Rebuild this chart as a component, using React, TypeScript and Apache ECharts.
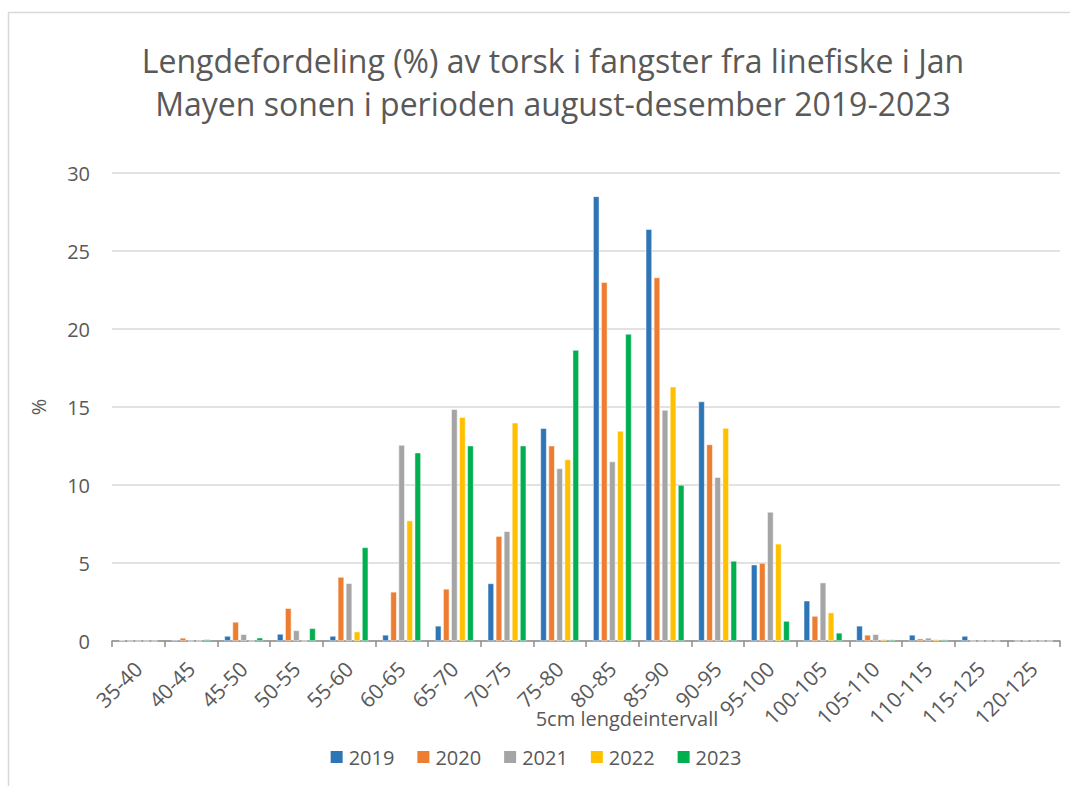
import React, { useEffect, useRef } from "react";
import * as echarts from "echarts";

const categories = ["35-40","40-45","45-50","50-55","55-60","60-65","65-70","70-75","75-80","80-85","85-90","90-95","95-100","100-105","105-110","110-115","115-125","120-125"];
const years = ["2019","2020","2021","2022","2023"];
const colors = ["#2E75B6","#ED7D31","#A5A5A5","#FFC000","#00B050"];
const v2019 = [0.03,0.07,0.32,0.45,0.32,0.39,0.97,3.69,13.64,28.5,26.4,15.35,4.89,2.58,0.97,0.39,0.32,0];
const v2020 = [0,0.2,1.22,2.1,4.1,3.15,3.34,6.72,12.52,23.0,23.3,12.6,5.0,1.6,0.39,0.15,0,0.02];
const v2021 = [0,0,0.43,0.68,3.7,12.56,14.85,7.03,11.06,11.5,14.8,10.5,8.27,3.74,0.43,0.2,0,0];
const v2022 = [0,0,0,0,0.6,7.72,14.35,13.99,11.64,13.46,16.3,13.65,6.23,1.82,0.11,0.11,0,0];
const v2023 = [0,0.1,0.21,0.81,6.0,12.07,12.52,12.52,18.65,19.68,10.0,5.13,1.28,0.52,0.09,0.09,0,0];
const seriesValues = [v2019, v2020, v2021, v2022, v2023];

const FONT = "'Open Sans', sans-serif";
const TXT = "#595959";

export default function App() {
  const ref = useRef<HTMLDivElement>(null);
  useEffect(() => {
    const chart = echarts.init(ref.current!, null, { renderer: "svg" });
    chart.setOption({
      animation: false,
      backgroundColor: "#fff",
      textStyle: { fontFamily: FONT },
      title: {
        text: "Lengdefordeling (%) av torsk i fangster fra linefiske i Jan\nMayen sonen i perioden august-desember 2019-2023",
        left: 548,
        top: 34,
        textAlign: "center",
        textStyle: { fontFamily: FONT, fontSize: 32, fontWeight: "normal", color: TXT, lineHeight: 43 },
      },
      graphic: [
        { type: "line", shape: { x1: 8.5, y1: 12, x2: 8.5, y2: 786 }, style: { stroke: "#D9D9D9", lineWidth: 1.5 } },
        { type: "line", shape: { x1: 8, y1: 12.5, x2: 1070, y2: 12.5 }, style: { stroke: "#D9D9D9", lineWidth: 1.5 } },
        { type: "text", x: 627, y: 708, style: { text: "5cm lengdeintervall", fontFamily: FONT, fontSize: 20, fill: TXT, textAlign: "center" } },
      ],
      legend: {
        data: years,
        left: "center",
        top: 742,
        itemWidth: 14,
        itemHeight: 14,
        itemGap: 21,
        icon: "rect",
        textStyle: { fontFamily: FONT, fontSize: 20, color: TXT },
      },
      grid: { left: 112, right: 10, top: 173, bottom: 145, containLabel: false },
      xAxis: {
        type: "category",
        data: categories,
        axisLine: { lineStyle: { color: "#8C8C8C", width: 1.5 } },
        axisTick: { show: true, length: 6, lineStyle: { color: "#8C8C8C", width: 1.5 } },
        axisLabel: { rotate: 45, fontFamily: FONT, fontSize: 21, color: TXT, margin: 24, interval: 0 },
      },
      yAxis: {
        type: "value",
        min: 0,
        max: 30,
        interval: 5,
        name: "%",
        nameLocation: "middle",
        nameGap: 64,
        nameRotate: 90,
        nameTextStyle: { fontFamily: FONT, fontSize: 20, color: TXT },
        axisLine: { show: false },
        axisTick: { show: false },
        splitLine: { lineStyle: { color: "#D9D9D9", width: 1.5 } },
        axisLabel: { fontFamily: FONT, fontSize: 20, color: TXT, margin: 22 },
      },
      series: years.map((y, i) => ({
        name: y,
        type: "bar",
        data: seriesValues[i],
        barGap: "30%",
        barCategoryGap: "27%",
        itemStyle: { color: colors[i], borderColor: "#fff", borderWidth: 0.5 },
      })),
    });
    return () => chart.dispose();
  }, []);
  return <div ref={ref} style={{ position: "fixed", left: 0, top: 0, width: 1070, height: 786 }} />;
}
